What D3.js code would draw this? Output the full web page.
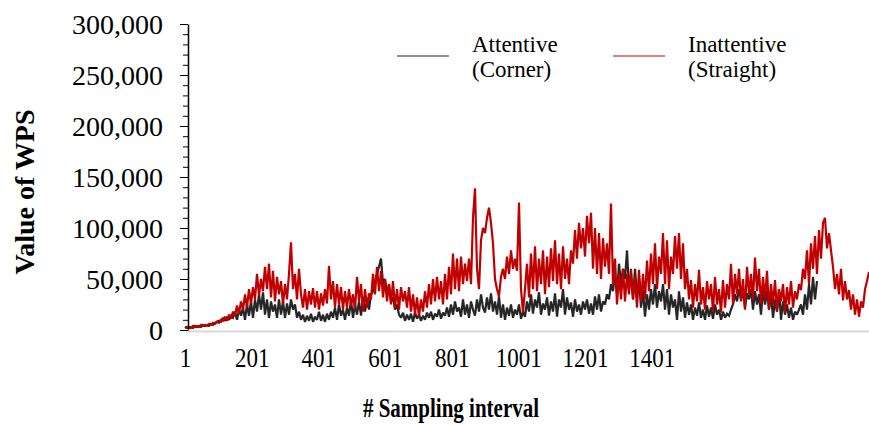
<!DOCTYPE html>
<html><head><meta charset="utf-8">
<script src="https://cdnjs.cloudflare.com/ajax/libs/d3/7.8.5/d3.min.js"></script>
<style>
body{margin:0;background:#fff;}
svg{display:block;}
text{font-family:"Liberation Serif","Times New Roman",serif;fill:#000;}
</style></head>
<body><svg id="chart" width="869" height="426"></svg>
<script>
// ---- data (values in thousands, one reading every 6 sampling intervals) ----
const sampleStep = 6;
const xTickValues = [1, 201, 401, 601, 801, 1001, 1201, 1401];
const yTickValues = [0, 50000, 100000, 150000, 200000, 250000, 300000];
const seriesNames = ["Attentive\n(Corner)", "Inattentive\n(Straight)"];
const attentiveK = [
2,3,2,3,2,4,3,4,3,5,
4,5,4,6,5,7,8,9,8,12,
9,13,10,14,12,18,10,20,14,22,
10,25,14,28,12,30,18,35,20,37,
15,30,12,28,18,25,12,30,15,28,
12,26,15,30,20,25,12,18,10,15,
8,14,9,16,8,13,10,18,9,15,
8,16,10,18,12,22,10,25,14,20,
10,22,14,29,12,25,15,28,14,32,
18,30,20,35,38,48,55,62,70,45,
50,35,45,28,32,20,25,15,12,17,
9,15,10,16,8,17,11,15,9,14,
10,17,12,18,10,16,13,20,11,17,
14,22,13,25,15,28,18,22,13,30,
15,25,12,28,20,14,30,18,35,22,
17,32,20,36,18,28,15,33,12,25,
10,22,14,25,12,20,15,25,11,18,
13,28,18,35,16,30,22,37,15,26,
20,32,14,28,18,36,13,30,22,40,
15,32,20,27,13,30,18,25,15,28,
20,30,16,26,15,33,20,35,18,28,
25,35,30,45,38,55,35,65,45,60,
50,78,40,55,30,60,32,50,22,39,
13,35,20,40,25,45,22,38,28,45,
20,40,15,35,22,30,10,38,18,32,
12,27,15,25,10,22,14,27,12,20,
10,24,13,22,11,25,15,20,10,18,
12,16,14,20,25,35,28,40,30,38,
22,36,30,40,20,38,25,35,15,40,
25,38,20,35,12,30,18,40,10,28,
15,25,12,22,10,18,15,20,25,15,
35,20,45,25,52,30,48];
const inattentiveK = [
3,2,3,2,4,3,4,3,5,4,
5,4,6,5,7,6,8,7,10,9,
13,9,15,11,18,14,24,16,28,20,
35,22,40,26,42,30,55,34,50,38,
62,40,65,32,58,28,52,35,48,25,
45,30,55,86,40,55,30,60,35,22,
40,20,38,25,41,22,38,20,36,24,
40,26,63,30,48,22,45,25,42,20,
38,22,40,24,35,20,52,28,45,18,
40,22,36,30,55,35,62,38,58,32,
50,28,45,25,48,22,40,20,42,28,
38,22,42,18,35,15,32,13,30,18,
38,22,45,25,50,28,52,30,48,25,
55,30,62,35,75,40,70,38,72,45,
65,48,70,45,110,139,60,40,88,100,
95,110,120,105,85,50,40,33,52,60,
50,72,55,78,60,70,58,125,40,17,
40,65,32,75,40,82,38,70,45,78,
35,72,42,80,48,88,45,75,40,82,
50,70,45,78,65,98,70,105,80,100,
72,112,85,115,60,100,55,95,50,90,
62,85,55,124,45,70,25,55,30,60,
28,55,35,60,30,52,22,59,28,55,
30,68,38,75,45,85,40,72,55,95,
45,88,40,72,55,92,60,95,50,85,
40,60,30,49,22,45,28,59,25,42,
20,48,30,45,18,52,25,40,17,49,
22,45,30,65,25,55,35,60,28,50,
20,62,35,55,30,71,38,60,25,52,
30,58,20,45,25,49,18,40,28,45,
17,42,25,48,22,38,30,45,39,60,
50,78,45,85,60,92,55,98,70,105,
110,80,95,78,62,40,55,35,60,29,
48,30,39,20,35,15,30,13,28,22,
40,48,57];
const seriesColors = ["#262626", "#c00000"];

// ---- chart ----
const svg = d3.select("#chart");
const x = d3.scaleLinear().domain([1, 2053]).range([185, 869]);
const y = d3.scaleLinear().domain([0, 300000]).range([330, 24]);

// x axis (light gray line, no ticks)
const xAxis = svg.append("g").attr("transform", "translate(0,331)")
  .call(d3.axisBottom(x).tickValues(xTickValues).tickSize(0).tickSizeOuter(0).tickFormat(d3.format("d")));
xAxis.select(".domain").attr("stroke", "#d9d9d9").attr("stroke-width", 2);
xAxis.selectAll("text").attr("y", null).attr("dy", null)
  .attr("transform", "translate(0,36) scale(1,1.2)")
  .style("font-size", "23px").attr("font-family", null).attr("fill", "#000");

// series
const line = d3.line().x((d, i) => x(1 + sampleStep * i)).y(d => y(d * 1000));
[attentiveK, inattentiveK].forEach((s, k) => {
  svg.append("path").datum(s).attr("d", line)
    .attr("fill", "none").attr("stroke", seriesColors[k])
    .attr("stroke-width", 2.2).attr("stroke-linejoin", "miter").attr("stroke-miterlimit", 2);
});

// y axis
const yMinor = svg.append("g").attr("transform", "translate(188,0)")
  .call(d3.axisLeft(y).tickValues(d3.range(0, 300001, 10000)).tickSize(5).tickSizeOuter(0).tickFormat(""));
yMinor.select(".domain").remove();
yMinor.selectAll("line").attr("stroke", "#000");
const yAxis = svg.append("g").attr("transform", "translate(188,0)")
  .call(d3.axisLeft(y).tickValues(yTickValues).tickSize(8).tickSizeOuter(0).tickPadding(17).tickFormat(d3.format(",")));
yAxis.select(".domain").attr("stroke", "#000").attr("stroke-width", 1.5);
yAxis.selectAll("line").attr("stroke", "#000");
yAxis.selectAll("text").style("font-size", "28px").attr("font-family", null).attr("fill", "#000").attr("dy", "0.34em");

// axis titles
svg.append("text").attr("transform", "translate(451,417) scale(1,1.25)")
  .attr("text-anchor", "middle").style("font-size", "21px").style("font-weight", "bold")
  .text("# Sampling interval");
svg.append("text").attr("transform", "translate(34,192) rotate(-90)")
  .attr("text-anchor", "middle").style("font-size", "28px").style("font-weight", "bold")
  .text("Value of WPS");

// legend
const legendPos = [{lx: 397, tx: 472}, {lx: 613, tx: 688}];
seriesNames.forEach((name, k) => {
  const p = legendPos[k];
  svg.append("line").attr("x1", p.lx).attr("x2", p.lx + 52).attr("y1", 56).attr("y2", 56)
    .attr("stroke", seriesColors[k]).attr("stroke-width", 1.2);
  name.split("\n").forEach((t, j) => {
    svg.append("text").attr("x", p.tx).attr("y", 52 + j * 25)
      .style("font-size", "23px").text(t);
  });
});
</script></body></html>
